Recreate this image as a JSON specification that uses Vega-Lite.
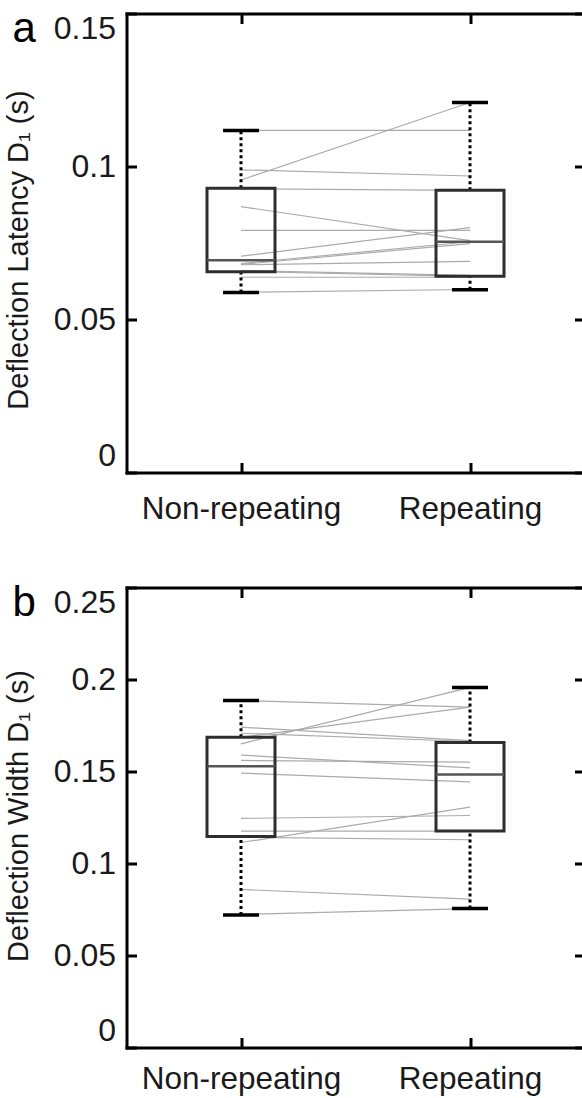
{
  "$schema": "https://vega.github.io/schema/vega-lite/v6.json",
  "padding": {"left": 3.5, "top": 7.5, "right": 0, "bottom": 0},
  "bounds": "flush",
  "spacing": 115,
  "config": {
    "view": {"stroke": null},
    "font": "Liberation Sans",
    "axis": {"grid": false, "domainColor": "black", "domainWidth": 3, "domainCap": "square", "tickColor": "black", "tickWidth": 3, "tickSize": -10, "labelColor": "#1a1a1a", "labelFont": "Liberation Sans", "titleFont": "Liberation Sans", "labelLimit": 400}
  },
  "datasets": {
    "pairsA": [
      {"s": 1, "cond": 1, "v": 0.1118}, {"s": 1, "cond": 2, "v": 0.1118},
      {"s": 2, "cond": 1, "v": 0.0956}, {"s": 2, "cond": 2, "v": 0.1209},
      {"s": 3, "cond": 1, "v": 0.0989}, {"s": 3, "cond": 2, "v": 0.0969},
      {"s": 4, "cond": 1, "v": 0.0927}, {"s": 4, "cond": 2, "v": 0.0922},
      {"s": 5, "cond": 1, "v": 0.0869}, {"s": 5, "cond": 2, "v": 0.0758},
      {"s": 6, "cond": 1, "v": 0.0791}, {"s": 6, "cond": 2, "v": 0.0791},
      {"s": 7, "cond": 1, "v": 0.0707}, {"s": 7, "cond": 2, "v": 0.0800},
      {"s": 8, "cond": 1, "v": 0.0683}, {"s": 8, "cond": 2, "v": 0.0754},
      {"s": 9, "cond": 1, "v": 0.0680}, {"s": 9, "cond": 2, "v": 0.0748},
      {"s": 10, "cond": 1, "v": 0.0679}, {"s": 10, "cond": 2, "v": 0.0690},
      {"s": 11, "cond": 1, "v": 0.0657}, {"s": 11, "cond": 2, "v": 0.0641},
      {"s": 12, "cond": 1, "v": 0.0660}, {"s": 12, "cond": 2, "v": 0.0644},
      {"s": 13, "cond": 1, "v": 0.0638}, {"s": 13, "cond": 2, "v": 0.0638},
      {"s": 14, "cond": 1, "v": 0.0589}, {"s": 14, "cond": 2, "v": 0.0598}
    ],
    "boxA": [
      {"cond": 1, "lo": 0.0588, "q1": 0.0656, "med": 0.0694, "q3": 0.0929, "hi": 0.1118},
      {"cond": 2, "lo": 0.0597, "q1": 0.0641, "med": 0.0754, "q3": 0.0922, "hi": 0.1209}
    ],
    "pairsB": [
      {"s": 1, "cond": 1, "v": 0.1886}, {"s": 1, "cond": 2, "v": 0.1850},
      {"s": 2, "cond": 1, "v": 0.1650}, {"s": 2, "cond": 2, "v": 0.1957},
      {"s": 3, "cond": 1, "v": 0.1741}, {"s": 3, "cond": 2, "v": 0.1668},
      {"s": 4, "cond": 1, "v": 0.1708}, {"s": 4, "cond": 2, "v": 0.1663},
      {"s": 5, "cond": 1, "v": 0.1686}, {"s": 5, "cond": 2, "v": 0.1850},
      {"s": 6, "cond": 1, "v": 0.1589}, {"s": 6, "cond": 2, "v": 0.1520},
      {"s": 7, "cond": 1, "v": 0.1560}, {"s": 7, "cond": 2, "v": 0.1551},
      {"s": 8, "cond": 1, "v": 0.1491}, {"s": 8, "cond": 2, "v": 0.1444},
      {"s": 9, "cond": 1, "v": 0.1245}, {"s": 9, "cond": 2, "v": 0.1261},
      {"s": 10, "cond": 1, "v": 0.1176}, {"s": 10, "cond": 2, "v": 0.1176},
      {"s": 11, "cond": 1, "v": 0.1143}, {"s": 11, "cond": 2, "v": 0.1129},
      {"s": 12, "cond": 1, "v": 0.1114}, {"s": 12, "cond": 2, "v": 0.1306},
      {"s": 13, "cond": 1, "v": 0.0859}, {"s": 13, "cond": 2, "v": 0.0806},
      {"s": 14, "cond": 1, "v": 0.0723}, {"s": 14, "cond": 2, "v": 0.0755}
    ],
    "boxB": [
      {"cond": 1, "lo": 0.0720, "q1": 0.1147, "med": 0.1529, "q3": 0.1686, "hi": 0.1886},
      {"cond": 2, "lo": 0.0755, "q1": 0.1176, "med": 0.1484, "q3": 0.1658, "hi": 0.1957}
    ]
  },
  "vconcat": [
    {
      "width": 458,
      "height": 459,
      "title": {"text": "a", "anchor": "start", "frame": "group", "fontSize": 42, "fontWeight": "normal", "font": "Liberation Sans", "color": "black", "dx": -114, "dy": 72, "offset": 0, "baseline": "alphabetic"},
      "resolve": {"axis": {"x": "independent", "y": "independent"}},
      "layer": [
        {
          "data": {"name": "pairsA"},
          "mark": {"type": "line", "color": "#ababab", "strokeWidth": 1.2},
          "encoding": {
            "x": {"field": "cond", "type": "quantitative", "scale": {"domain": [0.5, 2.5], "nice": false, "zero": false, "padding": 0},
                  "axis": {"orient": "bottom", "values": [1, 2], "labelExpr": "datum.value == 1 ? 'Non-repeating' : 'Repeating'", "labelFontSize": 31.5, "labelPadding": 56, "labelBaseline": "alphabetic", "title": null}},
            "y": {"field": "v", "type": "quantitative", "scale": {"domain": [0, 0.15], "nice": false, "padding": 0},
                  "axis": {"orient": "left", "values": [0, 0.05, 0.1, 0.15], "format": ".2~f", "labelFontSize": 32, "labelPadding": 21, "labelFlush": true,
                           "title": "Deflection Latency D₁ (s)", "titleFontSize": 29, "titleFontWeight": "normal", "titleColor": "#1a1a1a", "titleAngle": -90, "titleX": -99, "titleY": 236, "titleAlign": "center", "titleBaseline": "alphabetic"}},
            "detail": {"field": "s", "type": "nominal"}
          }
        },
        {
          "data": {"name": "boxA"},
          "mark": {"type": "rule", "strokeDash": [3, 3], "strokeWidth": 3, "color": "black"},
          "encoding": {"x": {"field": "cond", "type": "quantitative", "axis": null}, "y": {"field": "lo", "type": "quantitative", "axis": null}, "y2": {"field": "q1"}}
        },
        {
          "data": {"name": "boxA"},
          "mark": {"type": "rule", "strokeDash": [3, 3], "strokeWidth": 3, "color": "black"},
          "encoding": {"x": {"field": "cond", "type": "quantitative", "axis": null}, "y": {"field": "q3", "type": "quantitative", "axis": null}, "y2": {"field": "hi"}}
        },
        {
          "data": {"name": "boxA"},
          "mark": {"type": "bar", "width": 68, "fill": "transparent", "stroke": "#2e2e2e", "strokeWidth": 3},
          "encoding": {
            "x": {"field": "cond", "type": "quantitative", "axis": {"orient": "top", "values": [1, 2], "labels": false, "title": null}},
            "y": {"field": "q1", "type": "quantitative", "axis": {"orient": "right", "values": [0, 0.05, 0.1, 0.15], "labels": false, "title": null}},
            "y2": {"field": "q3"}
          }
        },
        {
          "data": {"name": "boxA"},
          "mark": {"type": "tick", "orient": "horizontal", "size": 68, "thickness": 2.5, "color": "#555555", "opacity": 1},
          "encoding": {"x": {"field": "cond", "type": "quantitative", "axis": null}, "y": {"field": "med", "type": "quantitative", "axis": null}}
        },
        {
          "data": {"name": "boxA"},
          "mark": {"type": "tick", "orient": "horizontal", "size": 36, "thickness": 3.5, "color": "black", "opacity": 1},
          "encoding": {"x": {"field": "cond", "type": "quantitative", "axis": null}, "y": {"field": "lo", "type": "quantitative", "axis": null}}
        },
        {
          "data": {"name": "boxA"},
          "mark": {"type": "tick", "orient": "horizontal", "size": 36, "thickness": 3.5, "color": "black", "opacity": 1},
          "encoding": {"x": {"field": "cond", "type": "quantitative", "axis": null}, "y": {"field": "hi", "type": "quantitative", "axis": null}}
        }
      ]
    },
    {
      "width": 458,
      "height": 460,
      "title": {"text": "b", "anchor": "start", "frame": "group", "fontSize": 42, "fontWeight": "normal", "font": "Liberation Sans", "color": "black", "dx": -114, "dy": 72, "offset": 0, "baseline": "alphabetic"},
      "resolve": {"axis": {"x": "independent", "y": "independent"}},
      "layer": [
        {
          "data": {"name": "pairsB"},
          "mark": {"type": "line", "color": "#ababab", "strokeWidth": 1.2},
          "encoding": {
            "x": {"field": "cond", "type": "quantitative", "scale": {"domain": [0.5, 2.5], "nice": false, "zero": false, "padding": 0},
                  "axis": {"orient": "bottom", "values": [1, 2], "labelExpr": "datum.value == 1 ? 'Non-repeating' : 'Repeating'", "labelFontSize": 31.5, "labelPadding": 51, "labelBaseline": "alphabetic", "title": null}},
            "y": {"field": "v", "type": "quantitative", "scale": {"domain": [0, 0.25], "nice": false, "padding": 0},
                  "axis": {"orient": "left", "values": [0, 0.05, 0.1, 0.15, 0.2, 0.25], "format": ".2~f", "labelFontSize": 32, "labelPadding": 21, "labelFlush": true,
                           "title": "Deflection Width D₁ (s)", "titleFontSize": 29, "titleFontWeight": "normal", "titleColor": "#1a1a1a", "titleAngle": -90, "titleX": -99, "titleY": 228, "titleAlign": "center", "titleBaseline": "alphabetic"}},
            "detail": {"field": "s", "type": "nominal"}
          }
        },
        {
          "data": {"name": "boxB"},
          "mark": {"type": "rule", "strokeDash": [3, 3], "strokeWidth": 3, "color": "black"},
          "encoding": {"x": {"field": "cond", "type": "quantitative", "axis": null}, "y": {"field": "lo", "type": "quantitative", "axis": null}, "y2": {"field": "q1"}}
        },
        {
          "data": {"name": "boxB"},
          "mark": {"type": "rule", "strokeDash": [3, 3], "strokeWidth": 3, "color": "black"},
          "encoding": {"x": {"field": "cond", "type": "quantitative", "axis": null}, "y": {"field": "q3", "type": "quantitative", "axis": null}, "y2": {"field": "hi"}}
        },
        {
          "data": {"name": "boxB"},
          "mark": {"type": "bar", "width": 68, "fill": "transparent", "stroke": "#2e2e2e", "strokeWidth": 3},
          "encoding": {
            "x": {"field": "cond", "type": "quantitative", "axis": {"orient": "top", "values": [1, 2], "labels": false, "title": null}},
            "y": {"field": "q1", "type": "quantitative", "axis": {"orient": "right", "values": [0, 0.05, 0.1, 0.15, 0.2, 0.25], "labels": false, "title": null}},
            "y2": {"field": "q3"}
          }
        },
        {
          "data": {"name": "boxB"},
          "mark": {"type": "tick", "orient": "horizontal", "size": 68, "thickness": 2.5, "color": "#555555", "opacity": 1},
          "encoding": {"x": {"field": "cond", "type": "quantitative", "axis": null}, "y": {"field": "med", "type": "quantitative", "axis": null}}
        },
        {
          "data": {"name": "boxB"},
          "mark": {"type": "tick", "orient": "horizontal", "size": 36, "thickness": 3.5, "color": "black", "opacity": 1},
          "encoding": {"x": {"field": "cond", "type": "quantitative", "axis": null}, "y": {"field": "lo", "type": "quantitative", "axis": null}}
        },
        {
          "data": {"name": "boxB"},
          "mark": {"type": "tick", "orient": "horizontal", "size": 36, "thickness": 3.5, "color": "black", "opacity": 1},
          "encoding": {"x": {"field": "cond", "type": "quantitative", "axis": null}, "y": {"field": "hi", "type": "quantitative", "axis": null}}
        }
      ]
    }
  ]
}
